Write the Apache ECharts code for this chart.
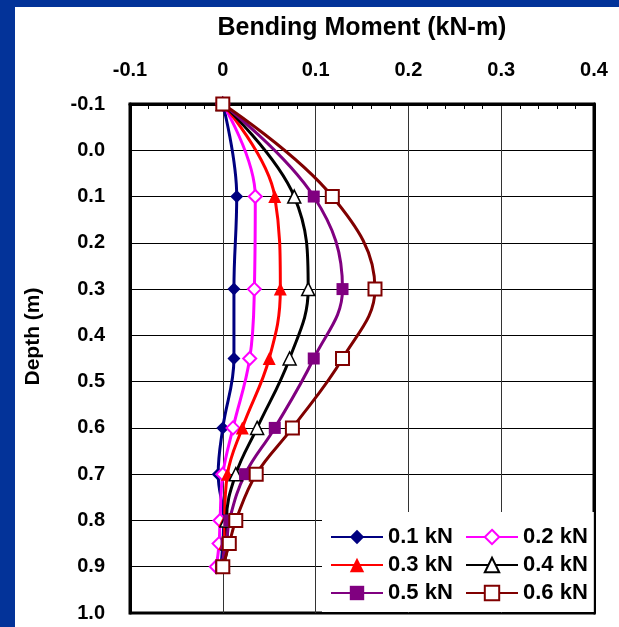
<!DOCTYPE html>
<html>
<head>
<meta charset="utf-8">
<script src="https://cdn.jsdelivr.net/npm/echarts@6/dist/echarts.min.js"></script>
<style>
  html, body { margin: 0; padding: 0; background: #fff; }
  #chart { width: 619px; height: 627px; }
</style>
</head>
<body>
<div id="chart"></div>
<script>
// Depths (m) at which the moment was measured
const depths = [-0.1, 0.1, 0.3, 0.45, 0.6, 0.7, 0.8, 0.85, 0.9];

// Bending moment (kN-m) for each lateral load
const load01 = [0, 0.015, 0.012, 0.012, 0.000, -0.005, 0.001, 0.000, -0.002];
const load02 = [0, 0.035, 0.034, 0.029, 0.011, 0.000, -0.003, -0.004, -0.007];
const load03 = [0, 0.056, 0.062, 0.050, 0.021, 0.005, 0.002, 0.002, -0.001];
const load04 = [0, 0.077, 0.092, 0.072, 0.037, 0.014, 0.004, 0.005, 0.000];
const load05 = [0, 0.098, 0.129, 0.098, 0.056, 0.024, 0.007, 0.004, -0.002];
const load06 = [0, 0.118, 0.164, 0.129, 0.075, 0.036, 0.014, 0.007, 0.000];

const seriesNames = ['0.1 kN', '0.2 kN', '0.3 kN', '0.4 kN', '0.5 kN', '0.6 kN'];

const FONT = 'Liberation Sans, Arial, sans-serif';

function pairs(vals) {
  return vals.map((v, i) => [v, depths[i]]);
}

function lineSeries(name, vals, color, symbol, size, fill, borderW) {
  return {
    name: name,
    type: 'line',
    data: pairs(vals),
    smooth: 0.4,
    symbol: symbol,
    symbolSize: size,
    showAllSymbol: true,
    lineStyle: { color: color, width: 3 },
    itemStyle: { color: fill, borderColor: color, borderWidth: borderW },
    emphasis: { disabled: true },
    animation: false
  };
}

const chart = echarts.init(document.getElementById('chart'), null, { renderer: 'canvas' });

const legendText = { fontFamily: FONT, fontWeight: 'bold', fontSize: 22, color: '#000', lineHeight: 22 };

chart.setOption({
  backgroundColor: '#fff',
  animation: false,
  graphic: [
    { type: 'rect', shape: { x: 0, y: 0, width: 619, height: 7 }, style: { fill: '#033399' }, z: 100 },
    { type: 'rect', shape: { x: 0, y: 0, width: 15, height: 627 }, style: { fill: '#033399' }, z: 100 }
  ],
  grid: {
    left: 130, right: 25, top: 104, bottom: 14,
    show: true, borderColor: '#000', borderWidth: 3, backgroundColor: '#fff'
  },
  xAxis: {
    type: 'value',
    position: 'top',
    min: -0.1, max: 0.4, interval: 0.1,
    name: 'Bending Moment (kN-m)',
    nameLocation: 'middle',
    nameGap: 63,
    nameTextStyle: { fontFamily: FONT, fontWeight: 'bold', fontSize: 25, color: '#000' },
    axisLine: { show: true, onZero: false, lineStyle: { color: '#000', width: 3 } },
    axisTick: { show: false, inside: true, length: 5 },
    minorTick: { show: true, splitNumber: 5, length: 5, lineStyle: { color: '#000', width: 1 } },
    axisLabel: {
      margin: 24,
      fontFamily: FONT, fontWeight: 'bold', fontSize: 20, color: '#000',
      formatter: v => Math.abs(v) < 1e-9 ? '0' : v.toFixed(1)
    },
    splitLine: { show: true, lineStyle: { color: '#333', width: 1 } }
  },
  yAxis: [
    {
      type: 'value',
      inverse: true,
      min: -0.1, max: 1.0, interval: 0.1,
      name: 'Depth (m)',
      nameLocation: 'middle',
      nameGap: 86,
      nameRotate: 90,
      nameTextStyle: {
        fontFamily: FONT, fontWeight: 'bold', fontSize: 21, color: '#000',
        padding: [0, 0, 0, 44]
      },
      axisLine: { show: true, onZero: false, lineStyle: { color: '#000', width: 3 } },
      axisTick: { show: false },
      axisLabel: {
        margin: 25,
        fontFamily: FONT, fontWeight: 'bold', fontSize: 20, color: '#000',
        formatter: v => (Math.abs(v) < 1e-9 ? 0 : v).toFixed(1)
      },
      splitLine: { show: true, lineStyle: { color: '#000', width: 1 } }
    },
    {
      type: 'value',
      inverse: true,
      position: 'right',
      min: -0.1, max: 1.0, interval: 0.1,
      axisLine: { show: true, onZero: false, lineStyle: { color: '#000', width: 3 } },
      axisTick: { show: true, inside: true, length: 5, lineStyle: { color: '#000' } },
      axisLabel: { show: false },
      splitLine: { show: false }
    }
  ],
  legend: [
    {
      data: [seriesNames[0], seriesNames[2], seriesNames[4]],
      orient: 'vertical',
      left: 322, top: 512,
      padding: [14, 5, 8, 8],
      itemGap: 6,
      itemWidth: 52, itemHeight: 18,
      backgroundColor: '#fff',
      textStyle: legendText,
      selectedMode: false
    },
    {
      data: [seriesNames[1], seriesNames[3], seriesNames[5]],
      orient: 'vertical',
      left: 457, top: 512,
      padding: [14, 6, 8, 8],
      itemGap: 6,
      itemWidth: 52, itemHeight: 18,
      backgroundColor: '#fff',
      textStyle: legendText,
      selectedMode: false
    }
  ],
  series: [
    lineSeries(seriesNames[0], load01, '#000080', 'diamond', 13, '#000080', 0),
    lineSeries(seriesNames[1], load02, '#ff00ff', 'diamond', 13, '#ffffff', 2),
    lineSeries(seriesNames[2], load03, '#ff0000', 'triangle', 13, '#ff0000', 0),
    lineSeries(seriesNames[3], load04, '#000000', 'triangle', 13, '#ffffff', 1.5),
    lineSeries(seriesNames[4], load05, '#800080', 'rect', 12, '#800080', 0),
    lineSeries(seriesNames[5], load06, '#800000', 'rect', 13, '#ffffff', 2)
  ]
});
</script>
</body>
</html>
